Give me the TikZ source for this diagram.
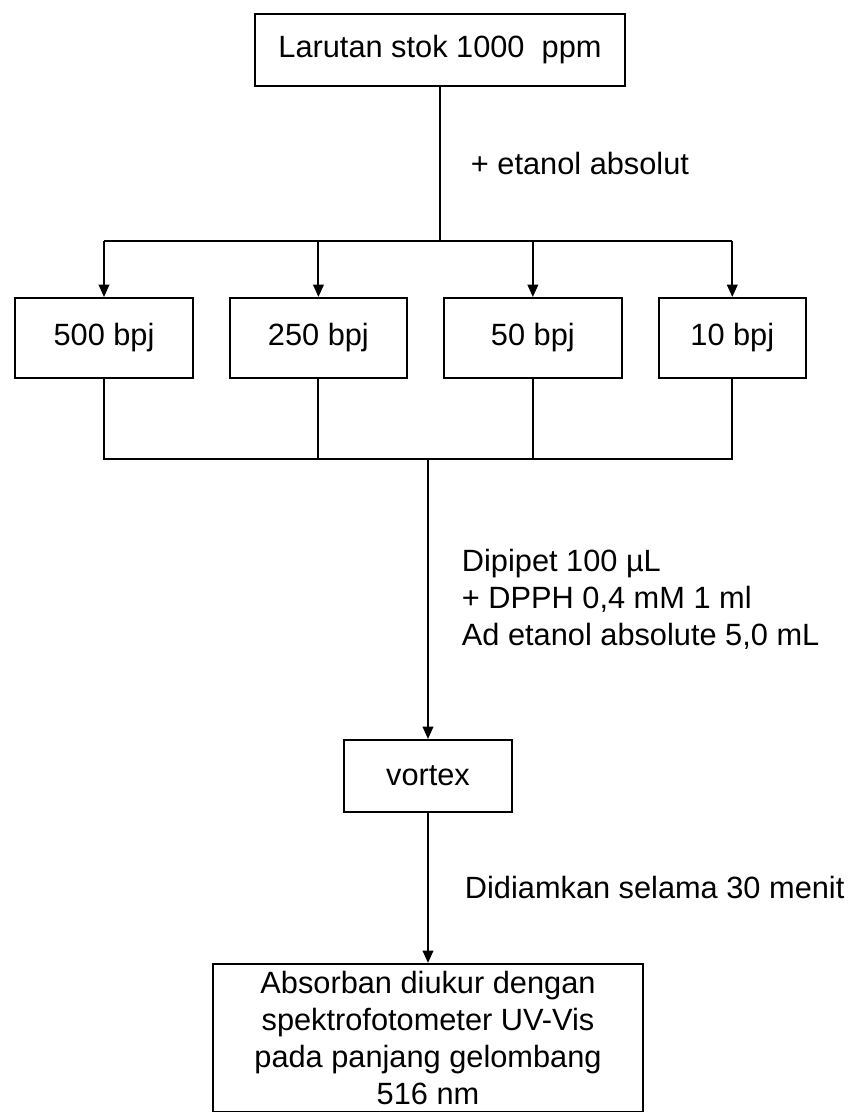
\documentclass[tikz,border=0pt]{standalone}
\usepackage{fontspec}
\setmainfont{Liberation Sans}
\usetikzlibrary{arrows.meta, positioning}

\begin{document}
\begin{tikzpicture}[
        node distance = 0.7cm,
        every node/.style={font=\fontsize{17.5}{21}\selectfont},
        box/.style={rectangle, draw, line width=1.1pt, align=center, inner sep=2pt},
        level/.style={box, minimum width=3.55cm, minimum height=1.6cm},
        note/.style={align=left, inner sep=0pt},
        line/.style={line width=1.1pt},
        arrow/.style={line, -{Triangle[length=7pt, width=6pt]}}
    ]
        \useasboundingbox (0,0) rectangle (17.04,-22.24);
        \node[box, minimum width=7.4cm, minimum height=1.44cm] (stok) at (8.8,-1.0) {Larutan stok 1000~~ppm};
        \coordinate[below=3.08cm of stok] (split);
        \node[level, below=4.2cm of stok, xshift=-6.72cm] (b500) {500 bpj};
        \node[level, right=of b500] (b250) {250 bpj};
        \node[level, right=of b250] (b50) {50 bpj};
        \node[level, right=of b50, minimum width=2.95cm] (b10) {10 bpj};
        \coordinate[below=1.6cm of b250] (merge);
        \node[box, minimum width=3.36cm, minimum height=1.44cm, below=13.04cm of stok, xshift=-0.24cm] (vortex) {vortex};
        \node[box, minimum width=8.6cm, minimum height=2.96cm, below=3cm of vortex] (hasil) {Absorban diukur dengan\\spektrofotometer UV-Vis\\pada panjang gelombang\\516 nm};

        \draw[line] (stok) -- node[note, right=0.6cm] {+ etanol absolut} (split);
        \draw[line] (split -| b500) -- (split -| b10);
        \foreach \b in {b500,b250,b50,b10}
            \draw[arrow] (split -| \b) -- (\b);
        \draw[line] (b500) -- (b500 |- merge) -- (b10 |- merge) -- (b10);
        \draw[line] (b250) -- (merge);
        \draw[line] (b50) -- (b50 |- merge);
        \draw[arrow] (vortex |- merge) -- node[note, right=0.66cm] {Dipipet 100 µL\\+ DPPH 0,4 mM 1 ml\\Ad etanol absolute 5,0 mL} (vortex);
        \draw[arrow] (vortex) -- node[note, right=0.72cm] {Didiamkan selama 30 menit} (hasil);
    \end{tikzpicture}
\end{document}
